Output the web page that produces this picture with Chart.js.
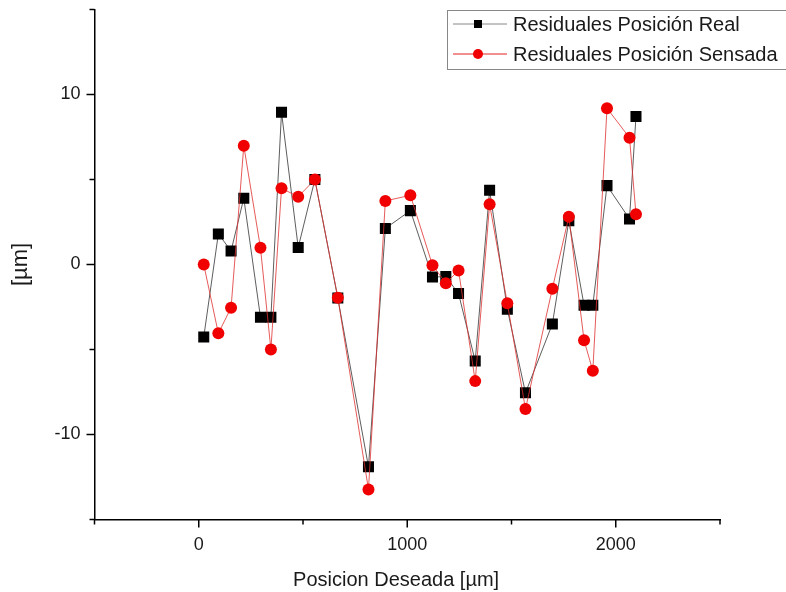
<!DOCTYPE html>
<html>
<head>
<meta charset="utf-8">
<script src="https://cdn.jsdelivr.net/npm/chart.js@4/dist/chart.umd.min.js"></script>
<style>
  body { margin: 0; background: #fff; }
  #wrap { width: 786px; height: 592px; }
</style>
</head>
<body>
<div id="wrap"><canvas id="residualsChart"></canvas></div>
<script>
// positions (µm)
const posDeseada = [24, 94, 155, 216, 296, 346, 397, 477, 557, 667, 814, 895, 1015, 1121, 1185,
  1246, 1326, 1395, 1480, 1567, 1696, 1775, 1848, 1890, 1958, 2066, 2097];
const resReal = [-4.27, 1.8, 0.8, 3.9, -3.1, -3.1, 8.95, 1.0, 5.0, -1.97, -11.9, 2.12, 3.17, -0.74, -0.71,
  -1.71, -5.68, 4.37, -2.63, -7.55, -3.5, 2.58, -2.4, -2.4, 4.64, 2.68, 8.7];
const resSensada = [0.0, -4.05, -2.54, 6.98, 0.98, -5.0, 4.48, 3.99, 5.0, -1.95, -13.23, 3.74, 4.07, -0.04, -1.1,
  -0.35, -6.86, 3.54, -2.28, -8.5, -1.42, 2.81, -4.46, -6.25, 9.19, 7.46, 2.95];

const xLabelEvery = 1000;
const yLabelEvery = 10;

const toPoints = ys => ys.map((y, i) => ({ x: posDeseada[i], y }));

// outward tick marks, long ones where there is a label
const tickMarks = {
  id: 'tickMarks',
  afterDraw(chart) {
    const ctx = chart.ctx;
    const xs = chart.scales.x, ys = chart.scales.y;
    ctx.save();
    ctx.strokeStyle = '#000';
    ctx.lineWidth = 1.5;
    xs.ticks.forEach(t => {
      const px = xs.getPixelForValue(t.value);
      const len = t.value % xLabelEvery === 0 ? 8 : 5;
      ctx.beginPath();
      ctx.moveTo(px, xs.top);
      ctx.lineTo(px, xs.top + len);
      ctx.stroke();
    });
    ys.ticks.forEach(t => {
      const py = ys.getPixelForValue(t.value);
      const len = t.value % yLabelEvery === 0 ? 8 : 5;
      ctx.beginPath();
      ctx.moveTo(ys.right, py);
      ctx.lineTo(ys.right - len, py);
      ctx.stroke();
    });
    ctx.restore();
  }
};

// boxed legend: line sample with marker in the middle
const boxLegend = {
  id: 'boxLegend',
  afterDraw(chart) {
    const ctx = chart.ctx;
    ctx.save();
    ctx.strokeStyle = '#888';
    ctx.lineWidth = 1;
    ctx.strokeRect(447.5, 10.5, 345, 59);
    chart.data.datasets.forEach((ds, i) => {
      const y = 24 + i * 30;
      ctx.strokeStyle = ds.legendLine;
      ctx.lineWidth = 1;
      ctx.beginPath();
      ctx.moveTo(453, y);
      ctx.lineTo(507, y);
      ctx.stroke();
      ctx.fillStyle = ds.pointBackgroundColor;
      if (ds.pointStyle === 'rect') {
        ctx.fillRect(474, y - 4, 8, 8);
      } else {
        ctx.beginPath();
        ctx.arc(478, y, 5, 0, Math.PI * 2);
        ctx.fill();
      }
      ctx.fillStyle = '#1a1a1a';
      ctx.font = '20px "Liberation Sans", Arial, sans-serif';
      ctx.textBaseline = 'middle';
      ctx.fillText(ds.label, 513, y + 1);
    });
    ctx.restore();
  }
};

new Chart(document.getElementById('residualsChart'), {
  type: 'line',
  data: {
    datasets: [
      {
        label: 'Residuales Posición Real',
        data: toPoints(resReal),
        borderColor: '#333',
        borderWidth: 0.8,
        pointStyle: 'rect',
        pointRadius: 7.8,
        pointBackgroundColor: '#000',
        pointBorderWidth: 0,
        legendLine: '#888',
        order: 1
      },
      {
        label: 'Residuales Posición Sensada',
        data: toPoints(resSensada),
        borderColor: '#e03030',
        borderWidth: 0.8,
        pointStyle: 'circle',
        pointRadius: 6,
        pointBackgroundColor: '#f00000',
        pointBorderWidth: 0,
        legendLine: '#e02020',
        order: 0
      }
    ]
  },
  options: {
    responsive: true,
    maintainAspectRatio: false,
    animation: false,
    layout: { padding: { top: 9.5, right: 66, left: 0, bottom: 0 } },
    plugins: {
      legend: { display: false },
      tooltip: { enabled: false }
    },
    scales: {
      x: {
        type: 'linear',
        min: -500,
        max: 2500,
        grid: { display: false, drawTicks: false },
        border: { display: true, color: '#000', width: 1.5 },
        afterFit(scale) {
          scale.height = 72.5;
          scale.paddingLeft = 0;
          scale.paddingRight = 0;
        },
        ticks: {
          stepSize: 500,
          padding: 15,
          color: '#1a1a1a',
          font: { family: '"Liberation Sans", Arial, sans-serif', size: 18 },
          maxRotation: 0,
          autoSkip: false,
          callback: v => (v % xLabelEvery === 0 ? String(v) : '')
        },
        title: {
          display: true,
          // trailing spaces nudge the centred title left, as in the original
          text: 'Posicion Deseada [µm]\u00a0\u00a0\u00a0\u00a0',
          color: '#1a1a1a',
          font: { family: '"Liberation Sans", Arial, sans-serif', size: 20 },
          padding: { top: 0, bottom: 0 }
        }
      },
      y: {
        min: -15,
        max: 15,
        grid: { display: false, drawTicks: false },
        border: { display: true, color: '#000', width: 1.5 },
        afterFit(scale) {
          scale.width = 94.5;
          scale.paddingTop = 0;
          scale.paddingBottom = 0;
        },
        ticks: {
          stepSize: 5,
          padding: 14,
          color: '#1a1a1a',
          font: { family: '"Liberation Sans", Arial, sans-serif', size: 18 },
          autoSkip: false,
          callback: v => (v % yLabelEvery === 0 ? String(v) : '')
        },
        title: {
          display: true,
          text: '[µm]',
          color: '#1a1a1a',
          font: { family: '"Liberation Sans", Arial, sans-serif', size: 22 },
          padding: { top: 8, bottom: 0 }
        }
      }
    }
  },
  plugins: [tickMarks, boxLegend]
});
</script>
</body>
</html>
